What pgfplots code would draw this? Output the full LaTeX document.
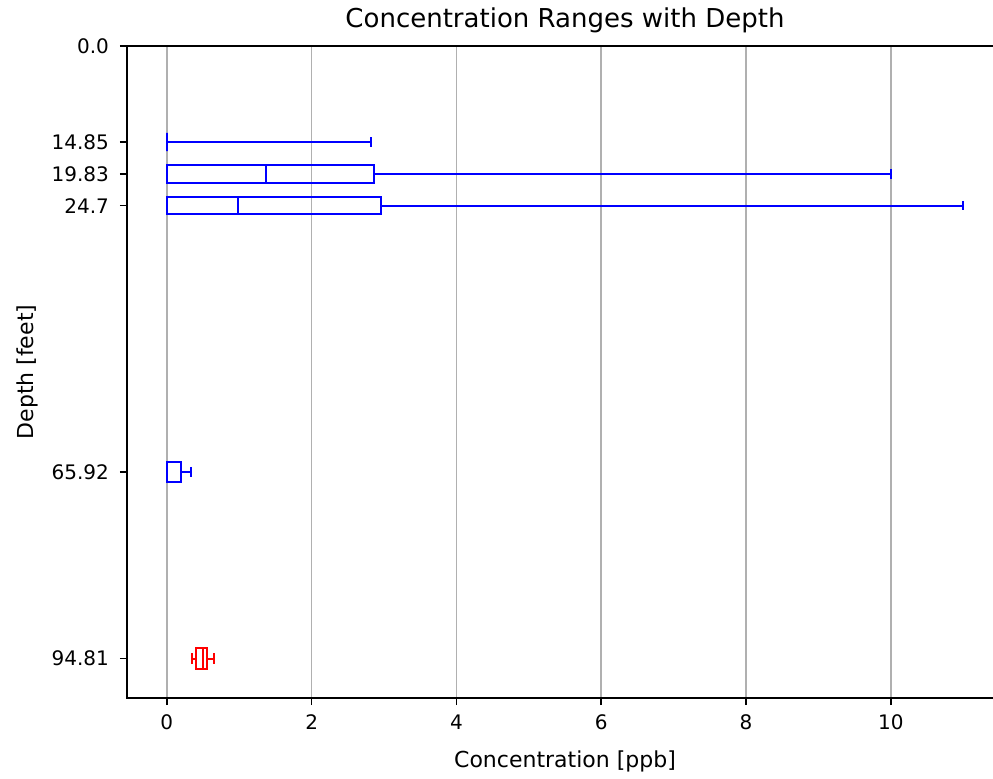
\documentclass[border=0pt]{standalone}
\usepackage{pgfplots}
\pgfplotsset{compat=1.18}
\usepgfplotslibrary{statistics}
\usepackage{fontspec}
\setmainfont{DejaVu Sans}
\begin{document}
\begin{tikzpicture}
\begin{axis}[
  scale only axis, width=438pt, height=326pt,
  xmin=-0.55, xmax=11.55, ymin=0, ymax=100.9, y dir=reverse,
  xtick={0,2,4,6,8,10},
  ytick={0,14.85,19.83,24.7,65.92,94.81},
  yticklabels={0.0,14.85,19.83,24.7,65.92,94.81},
  xmajorgrids, grid style={color=black!31, line width=0.8pt},
  tick align=outside, major tick length=3.5pt,
  tick style={black, line width=0.8pt},
  axis line style={line width=0.8pt},
  tick pos=left,
  /pgf/number format/assume math mode=true,
  ticklabel style={font=\fontsize{10}{12}\selectfont},
  yticklabel style={xshift=-2pt},
  xticklabel style={yshift=-1.5pt},
  label style={font=\fontsize{11}{13}\selectfont},
  xlabel style={yshift=-3.5pt},
  ylabel style={yshift=0pt},
  title style={font=\fontsize{13}{15}\selectfont, yshift=-3pt},
  title={Concentration Ranges with Depth},
  xlabel={Concentration [ppb]},
  ylabel={Depth [feet]},
  boxplot/draw direction=x,
]
\addplot[blue, line width=1pt, boxplot prepared={lower whisker=0, lower quartile=0, median=0, upper quartile=0, upper whisker=2.82, draw position=14.85, box extend=2.8, whisker extend=1.5}] coordinates {};
\addplot[blue, line width=1pt, boxplot prepared={lower whisker=0, lower quartile=0, median=1.37, upper quartile=2.86, upper whisker=10.0, draw position=19.83, box extend=2.7, whisker extend=1.5}] coordinates {};
\addplot[blue, line width=1pt, boxplot prepared={lower whisker=0, lower quartile=0, median=0.985, upper quartile=2.96, upper whisker=11.0, draw position=24.7, box extend=2.7, whisker extend=1.5}] coordinates {};
\addplot[blue, line width=1pt, boxplot prepared={lower whisker=0, lower quartile=0, median=0, upper quartile=0.19, upper whisker=0.34, draw position=65.92, box extend=3.1, whisker extend=1.6}] coordinates {};
\addplot[red, line width=1pt, boxplot prepared={lower whisker=0.35, lower quartile=0.40, median=0.50, upper quartile=0.555, upper whisker=0.65, draw position=94.81, box extend=3.3, whisker extend=1.7}] coordinates {};
\end{axis}
\pgfresetboundingbox
\path[use as bounding box] ([shift={(-63.5pt,-40pt)}]current axis.south west) rectangle ([shift={(-5pt,23pt)}]current axis.north east);
\end{tikzpicture}
\end{document}
